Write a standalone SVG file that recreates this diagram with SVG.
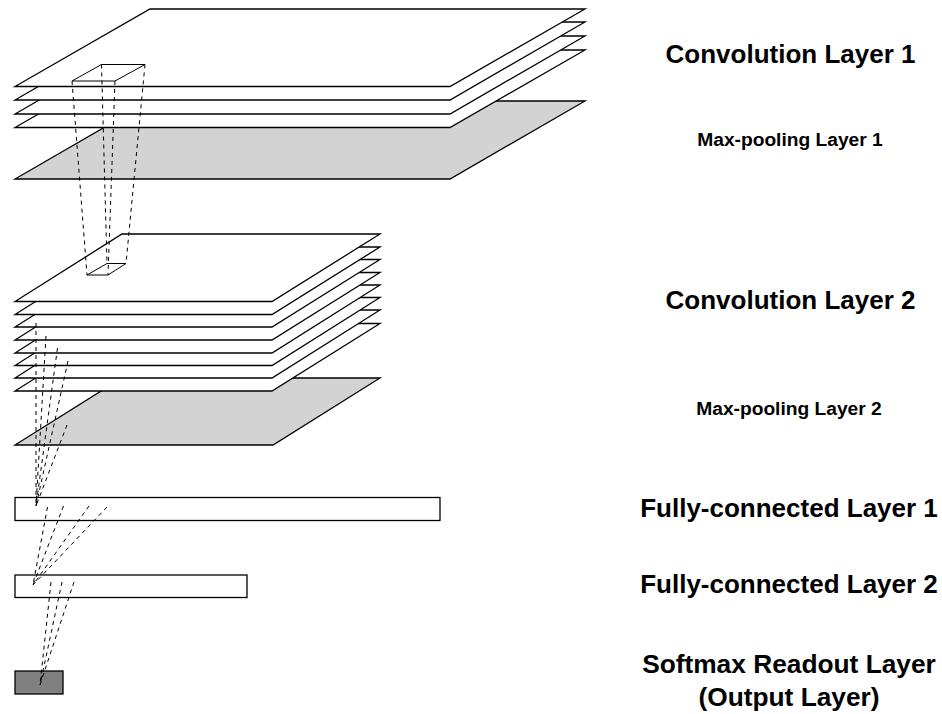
<svg xmlns="http://www.w3.org/2000/svg" width="942" height="714" viewBox="0 0 942 714">
<style>
.s{fill:#fff;stroke:#000;stroke-width:1.3;stroke-linejoin:miter}
.g{fill:#d3d3d3;stroke:#000;stroke-width:1.3}
.d{stroke:#000;stroke-width:1;stroke-dasharray:4 4;fill:none}
.b{fill:none;stroke:#000;stroke-width:1}
text{font-family:"Liberation Sans",Arial,sans-serif;font-weight:bold;fill:#000;text-anchor:middle}
.l{font-size:26px}
.o{font-size:26.3px}
.m{font-size:19.2px}
</style>
<rect width="942" height="714" fill="#fff"/>
<g id="conv1">
<polygon class="g" points="150,101 585,101 450,179 15,179"/>
<polygon class="s" points="150,50 585,50 450,127.500 15,127.500"/>
<polygon class="s" points="150,36 585,36 450,114 15,114"/>
<polygon class="s" points="150,22 585,22 450,100 15,100"/>
<polygon class="s" points="150,9 585,9 450,86.500 15,86.500"/>
<polygon class="b" points="72,81 101.500,64.500 145,64.500 115,81"/>
</g>
<g id="conv2">
<polygon class="g" points="122,378 380,378 273,445 15,445"/>
<polygon class="s" points="122,323.500 380,323.500 272,391 15,391"/>
<polygon class="s" points="122,310 380,310 272,378 15,378"/>
<polygon class="s" points="122,297.500 380,297.500 272,365.500 15,365.500"/>
<polygon class="s" points="122,285 380,285 272,353 15,353"/>
<polygon class="s" points="122,272.500 380,272.500 272,340 15,340"/>
<polygon class="s" points="122,259.500 380,259.500 272,327 15,327"/>
<polygon class="s" points="122,247 380,247 272,314.500 15,314.500"/>
<polygon class="s" points="122,234 380,234 272,301.500 15,301.500"/>
<polygon class="b" points="87,275 107,263.500 126,263.500 108,275"/>
</g>
<g id="fc1"><rect class="s" x="15" y="497.500" width="425" height="23"/></g>
<g id="fc2"><rect class="s" x="15" y="575" width="232" height="22.500"/></g>
<g id="softmax"><rect x="15" y="671" width="48" height="23" fill="#808080" stroke="#000" stroke-width="1.300"/></g>
<g id="connectors">
<path class="d" d="M72 81L87 275M101.500 64.500L107 263.500M115 81L108 275M145 64.500L126 263.500"/>
<path class="d" d="M36 323L36 506M46 336L36 506M57.500 348L36 506M68 361L36 506M67 425L36 506"/>
<path class="d" d="M47.500 507L33 585M63.500 506L33 585M89 506L33 585M107 507L33 585"/>
<path class="d" d="M51 582L40 685M62 582L40 685M74 582L40 685"/>
</g>
<g id="labels">
<text class="l" x="790.500" y="63">Convolution Layer 1</text>
<text class="m" x="790" y="146">Max-pooling Layer 1</text>
<text class="l" x="790.500" y="309">Convolution Layer 2</text>
<text class="m" x="789" y="415">Max-pooling Layer 2</text>
<text class="l" x="789" y="517">Fully-connected Layer 1</text>
<text class="l" x="789" y="593">Fully-connected Layer 2</text>
<text class="o" x="789" y="673">Softmax Readout Layer</text>
<text class="o" x="789" y="706">(Output Layer)</text>
</g>
</svg>
